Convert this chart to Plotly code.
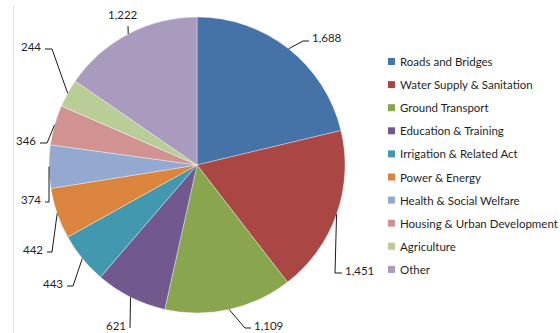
import math
import plotly.graph_objects as go

# Spending by sector
categories = [
    "Roads and Bridges", "Water Supply & Sanitation", "Ground Transport",
    "Education & Training", "Irrigation & Related Act", "Power & Energy",
    "Health & Social Welfare", "Housing & Urban Development", "Agriculture", "Other",
]
values = [1688, 1451, 1109, 621, 443, 442, 374, 346, 244, 1222]

colors = ["#4573A7", "#AA4643", "#89A54E", "#71588F", "#4198AF",
          "#DB843D", "#93A9CF", "#D19392", "#B9CD96", "#A99BBD"]

W, H = 560, 333
CX, CY, R = 197, 165, 148          # pie centre / radius in pixels

# label layout: elbow point, end of horizontal tick, text anchor side
label_layout = [
    ((303, 41), (309, 41), "left"),
    ((335, 273), (342, 273), "left"),
    ((245, 328), (251, 328), "left"),
    ((130, 328), (130, 328), "right"),
    ((73, 286), (67, 286), "right"),
    ((52, 252), (47, 252), "right"),
    ((49, 202), (45, 202), "right"),
    ((47, 143), (40, 143), "right"),
    ((52, 49), (45, 49), "right"),
    ((128, 26), (128, 26), "top"),
]


def px(x):
    return x / W


def py(y):
    return 1 - y / H


fig = go.Figure(go.Pie(
    labels=categories,
    values=values,
    sort=False,
    direction="clockwise",
    rotation=0,
    marker=dict(colors=colors, line=dict(color="rgba(255,255,255,0.6)", width=0.6)),
    textinfo="none",
    hoverinfo="label+value",
    showlegend=False,
    domain=dict(x=[px(CX - R), px(CX + R)], y=[py(CY + R), py(CY - R)]),
))

shapes = [dict(type="line", xref="paper", yref="paper",
               x0=px(13.5), x1=px(13.5), y0=py(5), y1=py(333),
               line=dict(color="#E4E4E4", width=1))]
annotations = []

total = sum(values)
cum = 0
for v, (elbow, end, side) in zip(values, label_layout):
    mid = (cum + v / 2) / total * 2 * math.pi
    cum += v
    ex = CX + R * math.sin(mid)
    ey = CY - R * math.cos(mid)
    path = f"M {px(ex)},{py(ey)} L {px(elbow[0])},{py(elbow[1])} L {px(end[0])},{py(end[1])}"
    shapes.append(dict(type="path", xref="paper", yref="paper", path=path,
                       line=dict(color="#1a1a1a", width=1)))
    text = f"{v:,}"
    if side == "left":
        annotations.append(dict(x=px(end[0] + 1), y=py(end[1] - 3), text=text,
                                xanchor="left", yanchor="middle", showarrow=False))
    elif side == "right":
        annotations.append(dict(x=px(end[0] - 2), y=py(end[1] - 3), text=text,
                                xanchor="right", yanchor="middle", showarrow=False))
    else:
        annotations.append(dict(x=px(end[0] - 5), y=py(end[1] - 12), text=text,
                                xanchor="center", yanchor="middle", showarrow=False))

# legend
for i, (name, col) in enumerate(zip(categories, colors)):
    yc = 61.5 + i * 23.1
    shapes.append(dict(type="rect", xref="paper", yref="paper",
                       x0=px(388), x1=px(395), y0=py(yc + 3.5), y1=py(yc - 3.5),
                       fillcolor=col, line=dict(width=0)))
    annotations.append(dict(x=px(398), y=py(yc), text=name, xanchor="left",
                            yanchor="middle", showarrow=False))

fig.update_layout(
    width=W, height=H,
    margin=dict(l=0, r=0, t=0, b=0),
    paper_bgcolor="white", plot_bgcolor="white",
    font=dict(family="Lato, Liberation Sans, sans-serif", size=11.5, color="#1f1f1f"),
    shapes=shapes,
    annotations=annotations,
)

fig.write_html("out.html")
